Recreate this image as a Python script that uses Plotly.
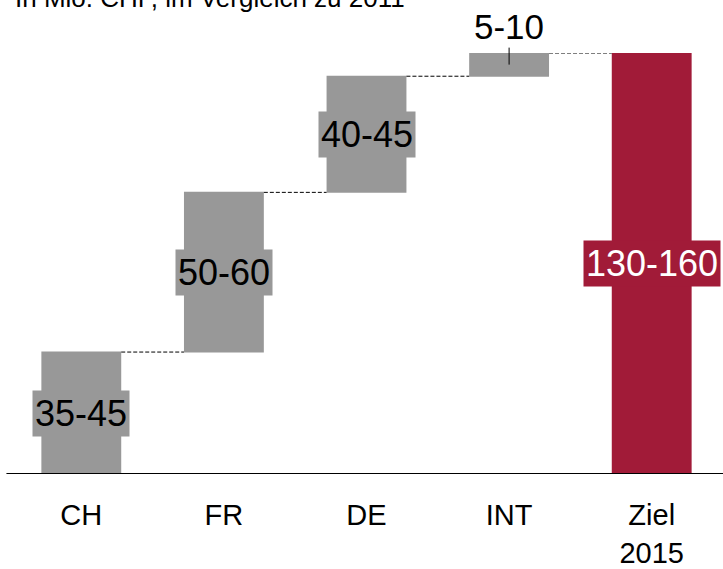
import plotly.graph_objects as go

# Umsatzbeitrag je Markt (Mio. CHF) und Zielbandbreite 2015
categories = ["CH", "FR", "DE", "INT", "Ziel<br>2015"]
measures = ["relative", "relative", "relative", "relative", "total"]
values = [42, 55, 40, 8, 0]
range_low = [35, 50, 40, 5, 130]
range_high = [45, 60, 45, 10, 160]

GRAY = "#989898"
RED = "#A11B38"
FONT = "Liberation Sans, Arial, sans-serif"

fig = go.Figure()
fig.add_trace(go.Waterfall(
    x=categories,
    y=values,
    measure=measures,
    increasing=dict(marker=dict(color=GRAY)),
    totals=dict(marker=dict(color=RED)),
    connector=dict(mode="between", line=dict(color="black", width=1, dash="4px,2px")),
    textinfo="none",
    hoverinfo="skip",
))

# Range labels centred on each bar segment
labels = [f"{lo}-{hi}" for lo, hi in zip(range_low, range_high)]
cum = 0
for cat, m, v, lab in zip(categories, measures, values, labels):
    if m == "total":
        bottom, top = 0, cum
    else:
        bottom, top = cum, cum + v
        cum = top
    if cat == "INT":
        # small segment: label sits above with a short leader line
        fig.add_annotation(
            x=cat, y=top - 0.5 * (top - bottom), text=lab,
            showarrow=True, arrowhead=0, arrowwidth=1, arrowcolor="black",
            ax=0, ay=-38, standoff=0,
            font=dict(family=FONT, size=35, color="black"),
        )
    else:
        is_total = m == "total"
        fig.add_annotation(
            x=cat, y=(bottom + top) / 2, text=lab, showarrow=False,
            bgcolor=RED if is_total else GRAY, borderpad=2,
            font=dict(family=FONT, size=36, color="white" if is_total else "black"),
        )

# Baseline
fig.add_shape(type="line", xref="paper", yref="y", x0=-0.005, x1=1.0, y0=0, y1=0,
              line=dict(color="black", width=2))

fig.add_annotation(
    xref="paper", yref="paper", x=0.005, y=1.092, xanchor="left", yanchor="bottom",
    text="In Mio. CHF, im Vergleich zu 2011", showarrow=False, borderpad=0,
    font=dict(family=FONT, size=26, color="black"),
)

fig.update_layout(
    width=723, height=569,
    margin=dict(l=10, r=0, t=53, b=95, autoexpand=False),
    paper_bgcolor="white", plot_bgcolor="white",
    showlegend=False,
    waterfallgap=0.44,
    xaxis=dict(
        showgrid=False, zeroline=False, showline=False, automargin=False,
        ticks="outside", ticklen=15, tickcolor="rgba(0,0,0,0)",
        tickfont=dict(family=FONT, size=29, color="black"),
    ),
    yaxis=dict(range=[0, 145], visible=False, showgrid=False, zeroline=False,
               automargin=False),
)

fig.write_html("out.html")
